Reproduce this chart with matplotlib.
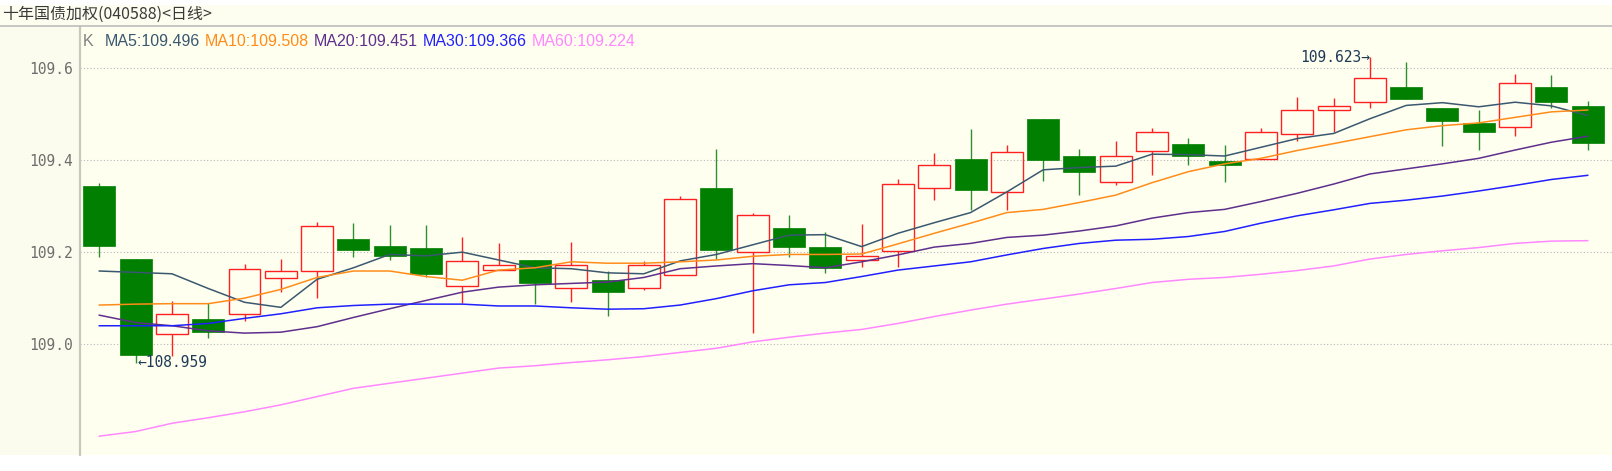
import matplotlib
matplotlib.use("Agg")
import matplotlib.pyplot as plt
from matplotlib.patches import Rectangle
import numpy as np

# daily bars
opens = [109.343, 109.184, 109.021, 109.054, 109.064, 109.143, 109.157, 109.228, 109.212, 109.209,
         109.126, 109.160, 109.183, 109.120, 109.138, 109.120, 109.149, 109.339, 109.199, 109.251,
         109.211, 109.183, 109.202, 109.338, 109.401, 109.329, 109.488, 109.409, 109.352, 109.420,
         109.434, 109.398, 109.402, 109.456, 109.507, 109.526, 109.559, 109.513, 109.480, 109.472,
         109.558, 109.516]
highs = [109.350, 109.184, 109.093, 109.088, 109.173, 109.184, 109.265, 109.263, 109.257, 109.257,
         109.231, 109.218, 109.183, 109.221, 109.159, 109.180, 109.322, 109.423, 109.285, 109.279,
         109.242, 109.260, 109.359, 109.415, 109.466, 109.431, 109.488, 109.423, 109.441, 109.468,
         109.447, 109.432, 109.468, 109.536, 109.534, 109.623, 109.612, 109.513, 109.508, 109.587,
         109.584, 109.528]
lows = [109.188, 108.959, 108.973, 109.013, 109.049, 109.112, 109.100, 109.189, 109.183, 109.144,
        109.088, 109.160, 109.086, 109.091, 109.060, 109.117, 109.149, 109.185, 109.024, 109.189,
        109.153, 109.167, 109.167, 109.312, 109.291, 109.291, 109.353, 109.323, 109.344, 109.367,
        109.388, 109.351, 109.402, 109.441, 109.461, 109.512, 109.531, 109.430, 109.421, 109.452,
        109.512, 109.421]
closes = [109.212, 108.976, 109.065, 109.026, 109.163, 109.158, 109.256, 109.204, 109.191, 109.151,
          109.180, 109.172, 109.131, 109.172, 109.112, 109.172, 109.315, 109.204, 109.279, 109.210,
          109.165, 109.191, 109.347, 109.388, 109.334, 109.417, 109.399, 109.373, 109.409, 109.460,
          109.409, 109.388, 109.460, 109.507, 109.516, 109.578, 109.531, 109.484, 109.461, 109.567,
          109.525, 109.436]

ma5 = [109.158, 109.155, 109.152, 109.120, 109.090, 109.079, 109.140, 109.165, 109.194, 109.191,
       109.199, 109.182, 109.165, 109.163, 109.154, 109.152, 109.180, 109.194, 109.215, 109.236,
       109.237, 109.211, 109.240, 109.263, 109.285, 109.330, 109.378, 109.383, 109.386, 109.412,
       109.411, 109.408, 109.427, 109.446, 109.457, 109.489, 109.518, 109.524, 109.515, 109.525,
       109.517, 109.496]
ma10 = [109.084, 109.086, 109.087, 109.087, 109.099, 109.118, 109.144, 109.158, 109.158, 109.146,
        109.138, 109.160, 109.165, 109.178, 109.175, 109.175, 109.178, 109.182, 109.190, 109.194,
        109.194, 109.195, 109.217, 109.240, 109.262, 109.285, 109.292, 109.307, 109.323, 109.350,
        109.374, 109.391, 109.403, 109.420, 109.435, 109.450, 109.465, 109.474, 109.480, 109.492,
        109.504, 109.508]
ma20 = [109.062, 109.046, 109.039, 109.028, 109.023, 109.025, 109.037, 109.057, 109.076, 109.094,
        109.112, 109.123, 109.128, 109.131, 109.134, 109.144, 109.163, 109.169, 109.174, 109.170,
        109.165, 109.178, 109.193, 109.210, 109.218, 109.231, 109.236, 109.245, 109.256, 109.273,
        109.285, 109.292, 109.309, 109.327, 109.347, 109.369, 109.380, 109.391, 109.403, 109.421,
        109.438, 109.451]
ma30 = [109.039, 109.039, 109.039, 109.044, 109.055, 109.065, 109.078, 109.083, 109.086, 109.086,
        109.086, 109.082, 109.082, 109.078, 109.075, 109.076, 109.084, 109.098, 109.115, 109.128,
        109.133, 109.146, 109.160, 109.169, 109.178, 109.193, 109.207, 109.218, 109.225, 109.227,
        109.233, 109.244, 109.262, 109.278, 109.291, 109.305, 109.312, 109.321, 109.332, 109.344,
        109.357, 109.366]
ma60 = [108.799, 108.809, 108.827, 108.839, 108.852, 108.867, 108.885, 108.903, 108.914, 108.925,
        108.936, 108.947, 108.952, 108.959, 108.965, 108.972, 108.981, 108.990, 109.004, 109.014,
        109.023, 109.031, 109.044, 109.059, 109.073, 109.086, 109.097, 109.108, 109.120, 109.133,
        109.140, 109.144, 109.151, 109.159, 109.169, 109.184, 109.194, 109.202, 109.209, 109.218,
        109.223, 109.224]

title = "十年国债加权(040588)<日线>"
yticks = [109.0, 109.2, 109.4, 109.6]
ma_names = ["MA5", "MA10", "MA20", "MA30", "MA60"]
ma_colors = ["#3a5870", "#ff8c1a", "#5e2f8c", "#2020ff", "#ff88ff"]

W, H = 1612, 471
fig = plt.figure(figsize=(W / 100, H / 100), dpi=100)
fig.patch.set_facecolor("white")

# title bar + left scale panel
fig.add_artist(Rectangle((0, 1 - 26 / H), 1, 21 / H, transform=fig.transFigure,
                         facecolor="#fdfdf0", edgecolor="none", zorder=0))
fig.add_artist(Rectangle((0, 16 / H), 80 / W, (455 - 26) / H, transform=fig.transFigure,
                         facecolor="#fcfcee", edgecolor="none", zorder=0))
fig.add_artist(plt.Line2D([0, 1], [1 - 26 / H, 1 - 26 / H], transform=fig.transFigure,
                          color="#bdbdbd", lw=1.2))
fig.text(2 / W, 1 - 14 / H, title, va="center", ha="left", fontsize=11.5, color="#3a3a3a",
         family=["Noto Sans CJK SC", "DejaVu Sans"])

ax = fig.add_axes([80 / W, 16 / H, (W - 80) / W, (455 - 27) / H])
ax.set_facecolor("#fffff0")
ax.set_xlim(-0.532, 41.67)
ax.set_ylim(108.758, 109.6885)

x = np.arange(len(opens))
bw = 0.88
for i in x:
    o, h, l, c = opens[i], highs[i], lows[i], closes[i]
    lo, hi = min(o, c), max(o, c)
    if c >= o:
        col = "#ff2020"
        ax.vlines(i, l, lo, color=col, lw=1.0, zorder=3)
        ax.vlines(i, hi, h, color=col, lw=1.0, zorder=3)
        ax.bar(i, max(hi - lo, 0.0005), bottom=lo, width=bw, facecolor="none",
               edgecolor=col, lw=1.0, zorder=3)
    else:
        col = "#007f00"
        ax.vlines(i, l, h, color="#2f8f2f", lw=1.0, zorder=3)
        ax.bar(i, hi - lo, bottom=lo, width=bw, facecolor=col, edgecolor=col,
               lw=0.5, zorder=3)

for vals, colr in zip([ma5, ma10, ma20, ma30, ma60], ma_colors):
    ax.plot(x, vals, color=colr, lw=1.1, zorder=4)

ax.set_yticks(yticks)
ax.set_yticklabels([f"{v:.1f}" for v in yticks])
ax.tick_params(axis="y", length=0, pad=5, labelsize=10.5, labelcolor="#6e6e6e")
for t in ax.get_yticklabels():
    t.set_family("DejaVu Sans Mono")
ax.set_xticks([])
ax.grid(axis="y", color="#b8b8b8", linestyle=(0, (1, 2)), lw=0.8, zorder=1)
for s in ["top", "right", "bottom"]:
    ax.spines[s].set_visible(False)
ax.spines["left"].set_color("#c8c8bc")
ax.spines["left"].set_linewidth(1.6)

# extreme value marks
ax.text(1.05, lows[1], "\u2190108.959", ha="left", va="center", fontsize=10.5,
        family="DejaVu Sans Mono", color="#1e3a56", zorder=5)
ax.text(35, highs[35], "109.623\u2192", ha="right", va="center", fontsize=10.5,
        family="DejaVu Sans Mono", color="#1e3a56", zorder=5)

# legend line
prev = fig.text(83 / W, 1 - 46 / H, "K", fontsize=11.5, color="#808080",
                family="Liberation Sans", va="baseline")
gaps = [8, 3.5, 3.5, 3.5, 3.5]
last = [ma5[-1], ma10[-1], ma20[-1], ma30[-1], ma60[-1]]
for name, val, colr, g in zip(ma_names, last, ma_colors, gaps):
    prev = ax.annotate(f"{name}:{val:.3f}", xy=(1, 0), xycoords=prev,
                       xytext=(g, 0), textcoords="offset points", ha="left", va="bottom",
                       fontsize=11.5, color=colr, family="Liberation Sans")

fig.savefig("out.png", dpi=100, facecolor=fig.get_facecolor())
